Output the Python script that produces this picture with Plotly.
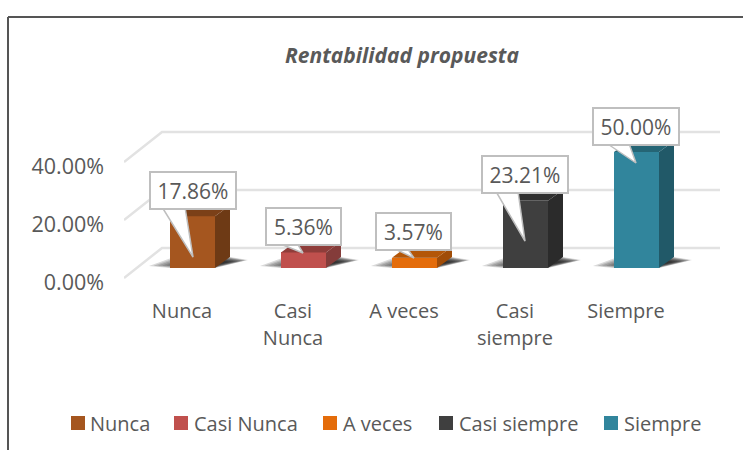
import numpy as np
import plotly.graph_objects as go

# Data
categories = ['Nunca', 'Casi Nunca', 'A veces', 'Casi siempre', 'Siempre']
tick_labels = ['Nunca', 'Casi<br>Nunca', 'A veces', 'Casi<br>siempre', 'Siempre']
values = [17.86, 5.36, 3.57, 23.21, 50.00]
y_ticks = [0, 20, 40]
y_tick_labels = ['0.00%', '20.00%', '40.00%']
axis_max = 40

front_colors = ['#A5561F', '#C0504D', '#E46C0A', '#3F3F3F', '#31859C']
side_colors = ['#6E3A15', '#843C3A', '#A04C07', '#2B2B2B', '#215968']
top_colors = ['#7B4018', '#8F3D3A', '#B35608', '#303030', '#256575']

FONT = 'Open Sans'
GREY = '#595959'
W, H = 743, 450

# Pixel frame of the plot area, the chart is a fake 3D so everything hangs on it
left, right, top, bottom = 124, 720, 100, 290
zero_px, px_per_pct = 268, 2.9
first_cat_px, cat_step = 182, 111


def xd(px):
    return (px - first_cat_px) / cat_step


def yd(px):
    return (zero_px - px) / px_per_pct


# paper refs are relative to the plot area, not the page
def xp(px):
    return (px - left) / (right - left)


def yp(px):
    return (bottom - px) / (bottom - top)


bar_width = 45 / cat_step
bar_shift = 10.5 / cat_step
depth_x = 15 / cat_step
depth_y = 11 / px_per_pct
back_y = 20 / px_per_pct
front_y = -10 / px_per_pct

xs = np.arange(len(values)) + bar_shift
drawn = np.minimum(values, axis_max)  # axis stops at 40%, Siempre gets cut

fig = go.Figure()

# Bars, front face
fig.add_trace(go.Bar(x=xs, y=drawn, width=bar_width, marker=dict(color=front_colors, line=dict(width=0)),
                     showlegend=False, hoverinfo='skip'))

# Side and top faces
for i in range(len(values)):
    x0 = xs[i] - bar_width / 2
    x1 = xs[i] + bar_width / 2
    v = drawn[i]
    fig.add_trace(go.Scatter(x=[x1, x1 + depth_x, x1 + depth_x, x1, x1],
                             y=[0, depth_y, v + depth_y, v, 0],
                             mode='lines', fill='toself', fillcolor=side_colors[i],
                             line=dict(width=0), showlegend=False, hoverinfo='skip'))
    fig.add_trace(go.Scatter(x=[x0, x1, x1 + depth_x, x0 + depth_x, x0],
                             y=[v, v, v + depth_y, v + depth_y, v],
                             mode='lines', fill='toself', fillcolor=top_colors[i],
                             line=dict(width=0), showlegend=False, hoverinfo='skip'))

shapes = []

# Gridlines, the receding part then the back wall
for t in y_ticks:
    path = 'M %f %f L %f %f L %f %f' % (xd(left), t + front_y, xd(162), t + back_y, xd(right), t + back_y)
    shapes.append(dict(type='path', path=path, xref='x', yref='y', layer='below',
                       line=dict(color='#E2E2E2', width=2.5)))

# Soft floor shadows, nested low opacity polygons that get darker towards the bar
for x in xs:
    x0 = x - bar_width / 2
    x1 = x + bar_width / 2
    # offsets in pixels from the bar foot
    outline = [(x0 - 21 / cat_step, 2), (x0, 0), (x1, 0), (x1 + 33 / cat_step, 8),
               (x1 + 15 / cat_step, 11), (x0 + 4 / cat_step, 11)]
    cx, cy = x1 + 4 / cat_step, 5
    for s in np.linspace(1, 0.3, 12):
        pts = [(cx + (a - cx) * s, (cy + (b - cy) * s) / px_per_pct) for a, b in outline]
        path = 'M ' + ' L '.join('%f %f' % p for p in pts) + ' Z'
        shapes.append(dict(type='path', path=path, xref='x', yref='y', layer='below',
                           fillcolor='rgba(30,30,30,0.17)', line=dict(width=0)))

# Chart frame, runs off the image at right and bottom
shapes.append(dict(type='line', xref='paper', yref='paper', x0=xp(8), x1=xp(W), y0=yp(17), y1=yp(17),
                   line=dict(color='#555555', width=2)))
shapes.append(dict(type='line', xref='paper', yref='paper', x0=xp(8), x1=xp(8), y0=yp(H), y1=yp(17),
                   line=dict(color='#555555', width=2)))

# Legend swatches and labels, drawn by hand since plotly keeps a wide gap after the symbol
legend_swatch_px = [71, 174, 323, 439, 604]
legend_text_px = [88, 192, 341, 457, 622]
annotations = []
for i, name in enumerate(categories):
    shapes.append(dict(type='rect', xref='paper', yref='paper', x0=xp(legend_swatch_px[i]),
                       x1=xp(legend_swatch_px[i] + 14), y0=yp(430), y1=yp(416),
                       fillcolor=front_colors[i], line=dict(width=0)))
    annotations.append(dict(text=name, xref='paper', yref='paper', x=xp(legend_text_px[i]), y=yp(423),
                            xanchor='left', yanchor='middle', showarrow=False,
                            font=dict(family=FONT, size=20, color=GREY)))

# Callouts: box centre, tail base and tail tip in pixels
box_cx = [192.5, 303.5, 413.5, 524.5, 635.5]
box_cy = [190, 226, 231, 174.5, 126.5]
box_w = [88, 77, 77, 88, 88]
tail_a = [162, 278, 393, 496, 607]
tail_b = [185, 297, 407, 518, 629]
tail_tip = [(193, 257), (303, 253), (414, 258), (525, 241), (636, 163)]

for i in range(len(values)):
    base_y = box_cy[i] + 17
    fig.add_trace(go.Scatter(x=[xd(tail_a[i]), xd(tail_tip[i][0]), xd(tail_b[i])],
                             y=[yd(base_y), yd(tail_tip[i][1]), yd(base_y)],
                             mode='lines', fill='toself', fillcolor='white',
                             line=dict(color='#BFBFBF', width=1.5), showlegend=False, hoverinfo='skip'))
    annotations.append(dict(text='%.2f%%' % values[i], xref='x', yref='y', x=xd(box_cx[i]), y=yd(box_cy[i]),
                            xanchor='center', yanchor='middle', showarrow=False,
                            width=box_w[i] - 4, height=35, borderpad=0, borderwidth=2,
                            bgcolor='white', bordercolor='#BFBFBF',
                            font=dict(family=FONT, size=21, color=GREY)))

fig.update_xaxes(range=[xd(left), xd(right)], tickvals=list(range(len(values))),
                 ticktext=['<span style="font-size:20px">%s</span>' % t.replace('<br>', '</span><br><span style="font-size:20px">')
                           for t in tick_labels],
                 tickfont=dict(family=FONT, size=21, color=GREY), tickangle=0,
                 showgrid=False, zeroline=False, showline=False, ticks='', ticklabelstandoff=6)
fig.update_yaxes(range=[yd(bottom), yd(top)], tickvals=[t - 14.5 / px_per_pct for t in y_ticks], ticktext=y_tick_labels,
                 tickfont=dict(family=FONT, size=21.5, color=GREY),
                 showgrid=False, zeroline=False, showline=False, ticks='', ticklabelstandoff=19)
fig.update_layout(width=W, height=H, template=None, paper_bgcolor='white', plot_bgcolor='rgba(0,0,0,0)',
                  margin=dict(l=left, r=W - right, t=top, b=H - bottom, autoexpand=False),
                  title=dict(text='Rentabilidad propuesta', x=402 / W, xanchor='center', y=1 - 56 / H, yanchor='middle',
                             font=dict(family=FONT, size=21, color=GREY, weight='bold', style='italic')),
                  shapes=shapes, annotations=annotations, showlegend=False, barmode='overlay', bargap=0)

# the page body has an 8px margin by default, drop it so the figure fills the window
fig.write_html("out.html", config=dict(displayModeBar=False),
               post_script="document.body.style.margin='0';")
